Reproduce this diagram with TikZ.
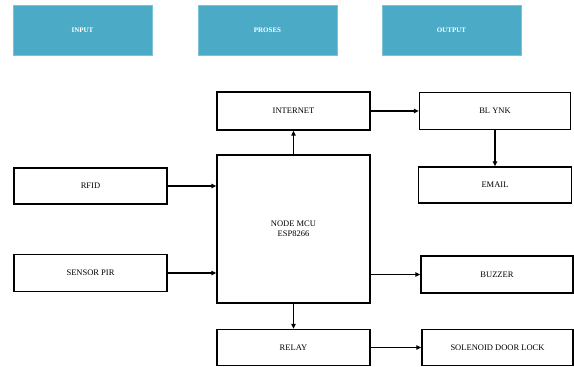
\documentclass[tikz,border=0pt]{standalone}
\usepackage{fontspec}
\setmainfont{Liberation Serif}
\usetikzlibrary{arrows.meta}
\definecolor{hdr}{HTML}{4BAAC6}
\definecolor{hdrline}{HTML}{7CC2D6}
\tikzset{
  hdrbox/.style={draw=hdrline, line width=1pt, fill=hdr, text=white, font=\bfseries\fontsize{7}{8}\selectfont, minimum width=139pt, minimum height=50pt, inner sep=0pt},
  blk/.style={draw=black, line width=1.4pt, fill=white, font=\fontsize{8.5}{10}\selectfont, align=center, inner sep=0pt},
  arr/.style={line width=1.4pt, -{Triangle[length=5pt,width=4.5pt]}}
}
\begin{document}
\begin{tikzpicture}[x=1pt,y=-1pt]
\useasboundingbox (0,0) rectangle (574,367);
\node[hdrbox] (hin) at (82.5,30) {INPUT};
\node[hdrbox] (hpr) at (267.5,30) {PROSES};
\node[hdrbox] (hout) at (451.5,30) {OUTPUT};

\node[blk, minimum width=153pt, minimum height=38pt] (inet) at (293.5,111) {INTERNET};
\node[blk, minimum width=153pt, minimum height=148pt] (mcu) at (293.5,229) {NODE MCU\\ESP8266};
\node[blk, minimum width=153pt, minimum height=36pt] (rfid) at (90.5,186) {RFID};
\node[blk, minimum width=153pt, minimum height=37pt] (pir) at (90.5,273) {SENSOR PIR};
\node[blk, minimum width=153pt, minimum height=36pt] (relay) at (293.5,347.5) {RELAY};
\node[blk, minimum width=151pt, minimum height=37pt] (blynk) at (495,111) {BL YNK};
\node[blk, minimum width=153pt, minimum height=36pt] (email) at (495,185) {EMAIL};
\node[blk, minimum width=152pt, minimum height=37pt] (buzzer) at (497,274.5) {BUZZER};
\node[blk, minimum width=151pt, minimum height=36pt] (sol) at (497.5,347.5) {SOLENOID DOOR LOCK};

\draw[arr] (rfid.east) -- (rfid.east -| mcu.west);
\draw[arr] (pir.east) -- (pir.east -| mcu.west);
\draw[arr] (mcu.north) -- (inet.south);
\draw[arr] (inet.east) -- (blynk.west);
\draw[arr] (blynk.south) -- (email.north);
\draw[arr] (buzzer.west -| mcu.east) -- (buzzer.west);
\draw[arr] (mcu.south) -- (relay.north);
\draw[arr] (relay.east) -- (sol.west);
\end{tikzpicture}
\end{document}
